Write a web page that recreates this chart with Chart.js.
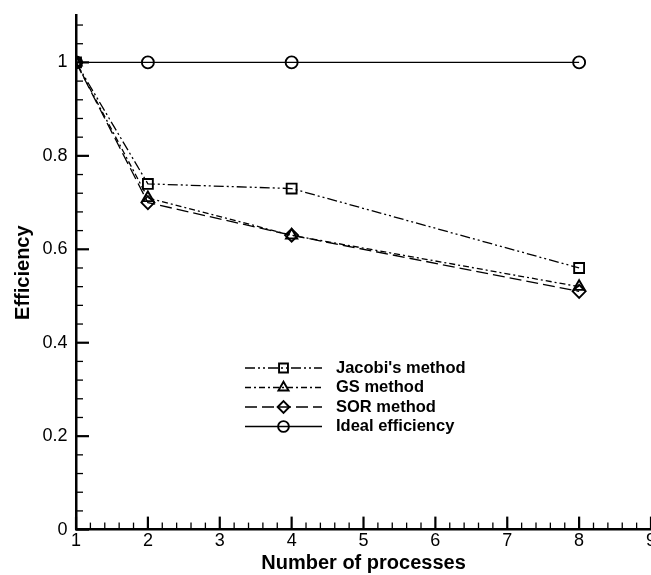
<!DOCTYPE html>
<html>
<head>
<meta charset="utf-8">
<script src="https://cdn.jsdelivr.net/npm/chart.js@4"></script>
<style>
  html, body { margin: 0; padding: 0; background: #fff; overflow: hidden; }
  #wrap { position: absolute; left: 0; top: 0; width: 660px; height: 575px; }
</style>
</head>
<body>
<div id="wrap"><canvas id="effChart"></canvas></div>
<script>
const processes = [1, 2, 4, 8];
const jacobiEff = [1, 0.74, 0.73, 0.56];
const gsEff = [1, 0.71, 0.63, 0.52];
const sorEff = [1, 0.70, 0.63, 0.51];
const idealEff = [1, 1, 1, 1];
const seriesNames = ["Jacobi's method", 'GS method', 'SOR method', 'Ideal efficiency'];

const toPoints = (ys) => processes.map((x, i) => ({ x: x, y: ys[i] }));

function lineSet(label, ys, marker, radius, dash) {
    return {
        label: label,
        data: toPoints(ys),
        borderColor: '#000',
        backgroundColor: '#fff',
        borderWidth: 1.3,
        borderDash: dash,
        pointStyle: marker,
        pointRadius: radius,
        pointBorderWidth: 1.9,
        pointBorderColor: '#000',
        pointBackgroundColor: 'rgba(255,255,255,0)',
        tension: 0,
    };
}

// ticks drawn inside the axes, like the original plot
const innerTicks = {
    id: 'innerTicks',
    afterDraw(chart) {
        const { ctx, scales: { x, y } } = chart;
        ctx.save();
        ctx.strokeStyle = '#000';
        const y0 = y.getPixelForValue(0);
        const x0 = x.getPixelForValue(1);
        for (let i = 0; i <= 40; i++) {
            const px = x.getPixelForValue(1 + i * 0.2);
            const len = i % 5 === 0 ? 13 : 7;
            ctx.lineWidth = i % 5 === 0 ? 2.2 : 1.3;
            ctx.beginPath();
            ctx.moveTo(px, y0);
            ctx.lineTo(px, y0 - len);
            ctx.stroke();
        }
        for (let i = 0; i <= 27; i++) {
            const py = y.getPixelForValue(i * 0.04);
            const len = i % 5 === 0 ? 13 : 7;
            ctx.lineWidth = i % 5 === 0 ? 2.2 : 1.3;
            ctx.beginPath();
            ctx.moveTo(x0, py);
            ctx.lineTo(x0 + len, py);
            ctx.stroke();
        }
        ctx.restore();
    }
};

// legend box inside the plot: line sample with marker in the middle
const insideLegend = {
    id: 'insideLegend',
    afterDraw(chart, args, opts) {
        const ctx = chart.ctx;
        ctx.save();
        chart.data.datasets.forEach((ds, i) => {
            const yy = opts.top + i * opts.rowGap;
            ctx.strokeStyle = '#000';
            ctx.lineWidth = ds.borderWidth;
            ctx.setLineDash(ds.borderDash);
            ctx.beginPath();
            ctx.moveTo(opts.left, yy);
            ctx.lineTo(opts.left + opts.lineLen, yy);
            ctx.stroke();
            ctx.setLineDash([]);
            ctx.lineWidth = ds.pointBorderWidth;
            ctx.fillStyle = 'rgba(255,255,255,0)';
            Chart.helpers.drawPoint(ctx, {
                pointStyle: ds.pointStyle,
                rotation: 0,
                radius: ds.pointRadius * 0.9,
                borderWidth: ds.pointBorderWidth,
            }, opts.left + opts.lineLen / 2, yy);
            ctx.fillStyle = '#000';
            ctx.font = 'bold 16.5px "Liberation Sans", Arial, sans-serif';
            ctx.textBaseline = 'middle';
            ctx.fillText(ds.label, opts.left + opts.lineLen + 14, yy);
        });
        ctx.restore();
    }
};

const tickFont = { family: '"Liberation Sans", Arial, sans-serif', size: 18, lineHeight: 0.8 };
const titleFont = { family: '"Liberation Sans", Arial, sans-serif', size: 20, weight: 'bold', lineHeight: 1.1 };

new Chart(document.getElementById('effChart'), {
    type: 'line',
    data: {
        datasets: [
            lineSet(seriesNames[0], jacobiEff, 'rect', 7, [10, 3, 2, 3, 2, 3]),
            lineSet(seriesNames[1], gsEff, 'triangle', 6.5, [6, 3, 2, 3]),
            lineSet(seriesNames[2], sorEff, 'rectRot', 6.5, [12, 5]),
            lineSet(seriesNames[3], idealEff, 'circle', 6, []),
        ],
    },
    options: {
        responsive: true,
        maintainAspectRatio: false,
        animation: false,
        layout: { padding: { top: 6, left: 12, right: 0, bottom: 1 } },
        plugins: {
            legend: { display: false },
            tooltip: { enabled: false },
            insideLegend: { left: 245, top: 368, rowGap: 19.5, lineLen: 77 },
        },
        scales: {
            x: {
                type: 'linear',
                min: 1,
                max: 9,
                ticks: { stepSize: 1, color: '#000', font: tickFont, padding: 4, maxRotation: 0 },
                grid: { display: false, drawTicks: false, tickLength: 0 },
                border: { color: '#000', width: 2.5 },
                title: { display: true, text: 'Number of processes', color: '#000', font: titleFont, padding: { top: 0, bottom: 0 } },
            },
            y: {
                min: 0,
                max: 1.1,
                ticks: {
                    stepSize: 0.2,
                    includeBounds: false,
                    color: '#000',
                    font: tickFont,
                    padding: 8.5,
                    callback: (v) => String(Number(v.toFixed(1))),
                },
                grid: { display: false, drawTicks: false, tickLength: 0 },
                border: { color: '#000', width: 2.5 },
                title: { display: true, text: 'Efficiency', color: '#000', font: titleFont, padding: { top: 0, bottom: 0 } },
            },
        },
    },
    plugins: [innerTicks, insideLegend],
});
</script>
</body>
</html>
